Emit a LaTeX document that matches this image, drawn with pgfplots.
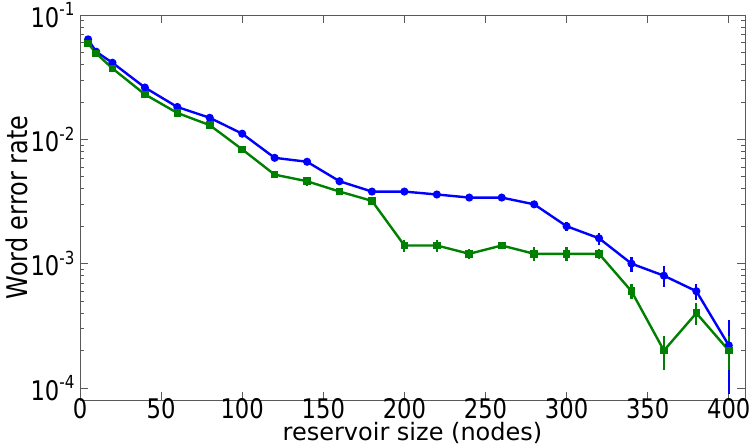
\documentclass[border=0pt]{standalone}
\usepackage{graphicx}
\usepackage{pgfplots}
\pgfplotsset{compat=1.18}
\usepackage{pgfplotstable}
\usepackage{fontspec}
\setmainfont{DejaVu Sans}
\definecolor{mplgreen}{rgb}{0,0.5,0}
\definecolor{mplblue}{rgb}{0,0,1}
\newcommand{\sep}[1]{\scalebox{0.84}[1]{10\raisebox{0.42em}{\fontsize{18}{20}\selectfont -#1}}}
\pgfplotstableread{
x y e
5 0.0637 0.001
10 0.0506 0.0008
20 0.0413 0.0006
40 0.0261 0.0004
60 0.0182 0.0003
80 0.0149 0.0003
100 0.0111 0.0002
120 0.0071 0.00015
140 0.0066 0.0002
160 0.0046 0.00015
180 0.0038 0.0001
200 0.0038 0.0001
220 0.0036 0.00012
240 0.0034 0.0001
260 0.0034 0.0001
280 0.0030 0.00012
300 0.0020 0.00018
320 0.0016 0.00018
340 0.0010 0.00014
360 0.0008 0.00015
380 0.0006 0.00009
400 0.00022 0.00013
}\blue
\pgfplotstableread{
x y e
5 0.0591 0.001
10 0.0491 0.0008
20 0.0372 0.0006
40 0.0230 0.0005
60 0.0163 0.0003
80 0.0130 0.0003
100 0.0083 0.0002
120 0.0052 0.0002
140 0.0046 0.00035
160 0.0038 0.0002
180 0.0032 0.00015
200 0.0014 0.00016
220 0.0014 0.00016
240 0.0012 0.00012
260 0.0014 0.0001
280 0.0012 0.00015
300 0.0012 0.00015
320 0.0012 0.00012
340 0.0006 0.00008
360 0.0002 0.00006
380 0.0004 0.00008
400 0.0002 0.00006
}\green
\begin{document}
\begin{tikzpicture}
\begin{axis}[
  name=ax,
  scale only axis,
  width=665pt, height=385pt,
  ymode=log,
  xmin=0, xmax=410,
  ymin=8e-5, ymax=0.1,
  xtick={0,50,...,400},
  ytick={1e-4,1e-3,1e-2,1e-1},
  yticklabels={\sep{4},\sep{3},\sep{2},\sep{1}},
  xticklabel={\scalebox{0.84}[1]{\pgfmathprintnumber{\tick}}},
  /pgf/number format/assume math mode=true,
  tick label style={font=\fontsize{27}{30}\selectfont},
  xticklabel style={yshift=5pt},
  yticklabel style={anchor=east, xshift=-2pt},
  xlabel={reservoir size (nodes)},
  ylabel={\scalebox{0.84}[1]{Word error rate}},
  xlabel style={font=\fontsize{24}{28}\selectfont, at={(axis description cs:0.5,0)}, anchor=base, yshift=-40pt},
  ylabel style={font=\fontsize{28.5}{32}\selectfont, at={(axis description cs:-0.0797,0.5)}, anchor=base},
  axis line style={black!65, line width=0.8pt},
  major tick length=8pt, minor tick length=4pt,
  every tick/.style={black!65, line width=0.8pt},
  tick align=inside,
  xtick pos=both, ytick pos=both,
  clip=false,
]
\addplot+[mplblue, line width=2.4pt, mark=*, mark size=2.8pt, mark options={fill=mplblue, draw=mplblue},
  error bars/.cd, y dir=both, y explicit, error mark=none,
  error bar style={line width=2.2pt, mplblue}]
  table[x=x, y=y, y error=e] {\blue};
\addplot+[mplgreen, line width=2.4pt, mark=square*, mark size=2.6pt, mark options={fill=mplgreen, draw=mplgreen},
  error bars/.cd, y dir=both, y explicit, error mark=none,
  error bar style={line width=2.2pt, mplgreen}]
  table[x=x, y=y, y error=e] {\green};
\end{axis}
\pgfresetboundingbox
\path ([shift={(-80pt,-47pt)}]ax.south west) rectangle ([shift={(11pt,15pt)}]ax.north east);
\end{tikzpicture}
\end{document}
